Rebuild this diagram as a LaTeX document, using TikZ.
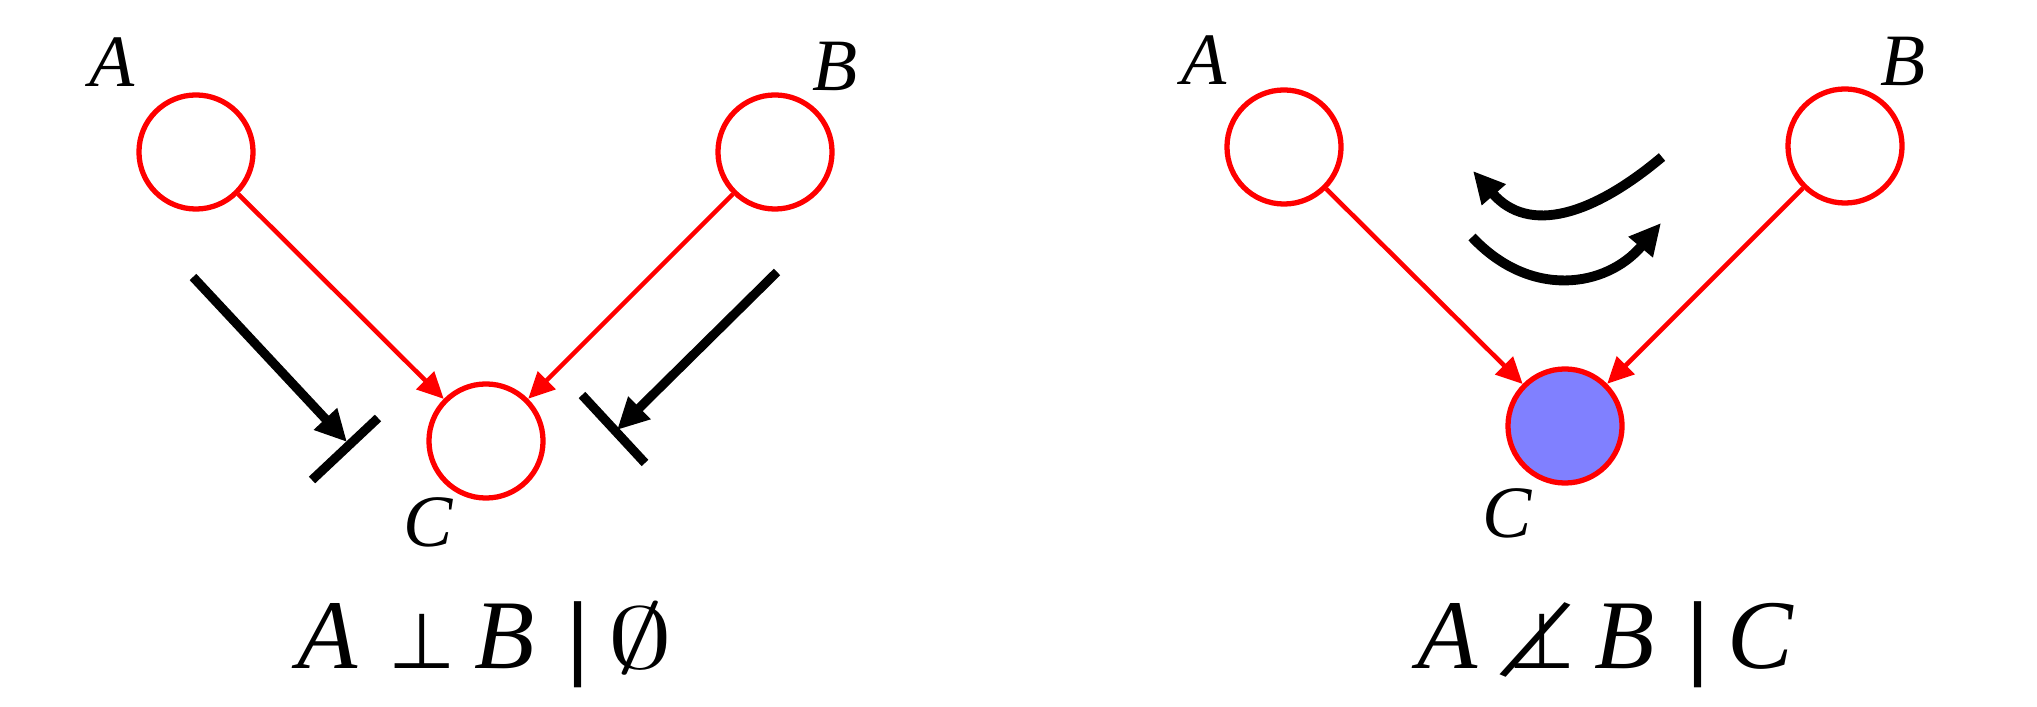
\documentclass[tikz,border=0pt]{standalone}
\usepackage{fontspec}
\usepackage{graphicx}
\setmainfont{Liberation Serif}
\newfontfamily\symfont{DejaVu Sans}
\usetikzlibrary{arrows.meta}
\definecolor{nodeblue}{RGB}{128,128,255}
\newsavebox{\perpbox}
\newcommand{\fbar}{\resizebox*{!}{24.5pt}{\symfont|}}
\newcommand{\fperp}{{\symfont\fontsize{22}{27}\selectfont ⊥}}
\newcommand{\fslash}{\makebox[0pt][c]{\raisebox{-4.6pt}{\rotatebox[origin=c]{-23}{\fontsize{39}{40}\selectfont/}}}}
\newcommand{\fnperp}{\sbox{\perpbox}{\fperp}\usebox{\perpbox}\llap{\makebox[\wd\perpbox][c]{\kern-3.4pt\fslash}}}
\newcommand{\fempty}{\scalebox{1.5}[1]{$\emptyset$}}
\begin{document}
\begin{tikzpicture}[x=0.01cm,y=-0.01cm,
  var/.style={circle,draw=red,line width=1.5pt,minimum size=1.14cm,inner sep=0pt},
  obs/.style={var,fill=nodeblue},
  lab/.style={inner sep=0pt,font=\fontsize{21}{25}\selectfont\itshape},
  formula/.style={inner sep=0pt,font=\fontsize{28}{34}\selectfont},
  edge/.style={draw=red,line width=1.3pt,-{Triangle[length=7.5pt,width=7pt]}},
  flow/.style={line width=2.6pt,-{Triangle[length=9pt,width=8.5pt]}},
  swing/.style={line width=2.8pt,-{Triangle[length=9pt,width=8.5pt]}},
  blockbar/.style={line width=2.6pt},
]
\useasboundingbox (0,0) rectangle (2037,707);
% left panel
\node[var] (A1) at (196,152) {};
\node[var] (B1) at (775,152) {};
\node[var] (C1) at (486,441) {};
\node[lab] (lA1) at (112,62) {A};
\node[lab] (lB1) at (835,66) {B};
\node[lab] (lC1) at (428,522) {C};
\draw[edge] (A1) -- (C1);
\draw[edge] (B1) -- (C1);
\coordinate (ls) at (193,277);
\coordinate (lt) at (347,442);
\coordinate (lb1) at (312,480);
\coordinate (lb2) at (378,418);
\draw[flow] (ls) -- (lt);
\draw[blockbar] (lb1) -- (lb2);
\coordinate (rs) at (777,272);
\coordinate (rt) at (617,430);
\coordinate (rb1) at (582,395);
\coordinate (rb2) at (645,463);
\draw[flow] (rs) -- (rt);
\draw[blockbar] (rb1) -- (rb2);
\node[formula,anchor=base west] (f1) at (297,668)
  {\textit{A}\hspace{8.5pt}\fperp\hspace{5.5pt}\textit{B}\hspace{8pt}\fbar\hspace{4.5pt}\fempty};
% right panel
\node[var] (A2) at (1284,147) {};
\node[var] (B2) at (1845,146) {};
\node[obs] (C2) at (1565,426) {};
\node[lab] (lA2) at (1204,60) {A};
\node[lab] (lB2) at (1903,61) {B};
\node[lab] (lC2) at (1507,513) {C};
\draw[edge] (A2) -- (C2);
\draw[edge] (B2) -- (C2);
\coordinate (u0) at (1662,157);
\coordinate (u1) at (1473,171);
\coordinate (w0) at (1472,237);
\coordinate (w1) at (1661,223);
\draw[swing] (u0) .. controls (1593,215) and (1529,235) .. (u1);
\draw[swing] (w0) .. controls (1530,299) and (1606,288) .. (w1);
\node[formula,anchor=base west] (f2) at (1417,668)
  {\textit{A}\hspace{8.5pt}\fnperp\hspace{5.5pt}\textit{B}\hspace{8pt}\fbar\hspace{4.5pt}\textit{C}};
\end{tikzpicture}
\end{document}
